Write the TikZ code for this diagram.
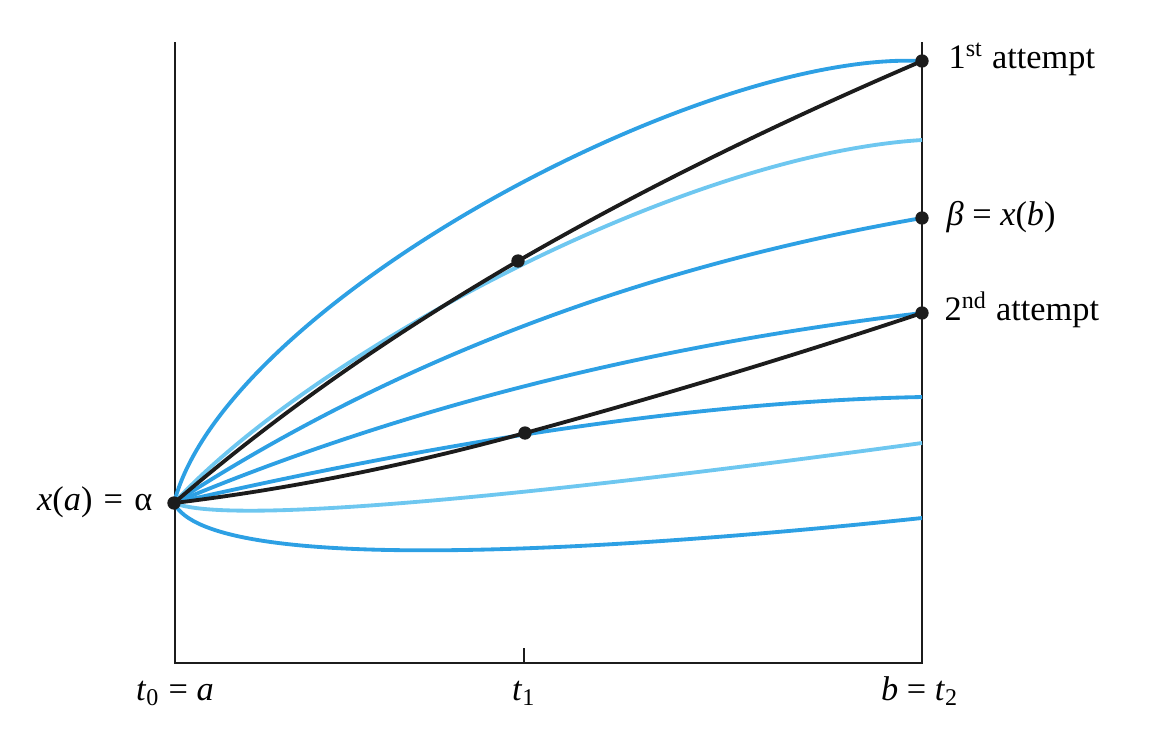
\documentclass[tikz,border=0pt]{standalone}
\usepackage{fontspec}
\setmainfont{Liberation Serif}

\definecolor{curveblue}{RGB}{45,160,228}
\definecolor{paleblue}{RGB}{110,199,240}
\definecolor{darkline}{RGB}{28,28,28}

\tikzset{
  axis/.style={darkline, line width=0.7pt},
  blueline/.style={curveblue, line width=1.15pt},
  paleline/.style={paleblue, line width=1.15pt},
  attempt/.style={darkline, line width=1.15pt},
  lbl/.style={font=\fontsize{10.3}{12}\selectfont, inner sep=0pt}
}

\begin{document}
\begin{tikzpicture}[x=0.3pt, y=-0.3pt]
    \useasboundingbox (0,0) rectangle (1153,745);

    % Frame
    \coordinate (O) at (175,663);
    \coordinate (T) at (524,663);
    \coordinate (B) at (922,663);
    \draw[axis] (175,42) -- (O) -- (B) -- (922,42);
    \draw[axis] (T) -- ++(0,-15);

    % Start, mid and end points
    \coordinate (A) at (174,503);
    \coordinate (D1) at (518,261);
    \coordinate (D2) at (525,433);
    \coordinate (E1) at (922,61);
    \coordinate (Eb) at (922,218);
    \coordinate (E2) at (922,313);
    \coordinate (c2) at (922,140);
    \coordinate (c5) at (922,397);
    \coordinate (c6) at (922,443);
    \coordinate (c7) at (922,518);

    % Family of trajectories
    \draw[blueline] (A) .. controls (225,305) and (700,50) .. (E1);
    \draw[paleline] (A) .. controls (310,355) and (680,155) .. (c2);
    \draw[blueline] (A) .. controls (391,362) and (640,267) .. (Eb);
    \draw[blueline] (A) .. controls (396,410) and (645,346) .. (E2);
    \draw[blueline] (A) .. controls (462,437) and (711,401) .. (c5);
    \draw[paleline] (A) .. controls (240,530) and (650,480) .. (c6);
    \draw[blueline] (A) .. controls (210,575) and (600,552) .. (c7);

    % Attempts
    \draw[attempt] (A) .. controls (288,405) and (403,328) .. (D1)
                       .. controls (653,183) and (787,119) .. (E1);
    \draw[attempt] (A) .. controls (290,489) and (408,465) .. (D2)
                       .. controls (657,397) and (790,357) .. (E2);

    % Dots
    \foreach \p in {A,D1,D2,E1,Eb,E2}
        \fill[darkline] (\p) circle (2pt);

    % Labels
    \node[lbl, anchor=mid east] (xa) at ([xshift=-6.3pt]A) {\textit{x}(\textit{a})\kern0.8pt{} = \kern0.8pt{}α};
    \node[lbl, anchor=mid west] (first) at ([xshift=7.8pt]E1) {1\textsuperscript{st} attempt};
    \node[lbl, anchor=mid west] (beta) at ([xshift=7.2pt]Eb) {\textit{β} = \textit{x}(\textit{b})};
    \node[lbl, anchor=mid west] (second) at ([xshift=6.6pt]E2) {2\textsuperscript{nd} attempt};
    \node[lbl, anchor=base] (t0) at (175,700) {\textit{t}\textsubscript{0} = \textit{a}};
    \node[lbl, anchor=base] (t1) at (524,700) {\textit{t}\textsubscript{1}};
    \node[lbl, anchor=base] (t2) at (920,700) {\textit{b} = \textit{t}\textsubscript{2}};
\end{tikzpicture}
\end{document}
